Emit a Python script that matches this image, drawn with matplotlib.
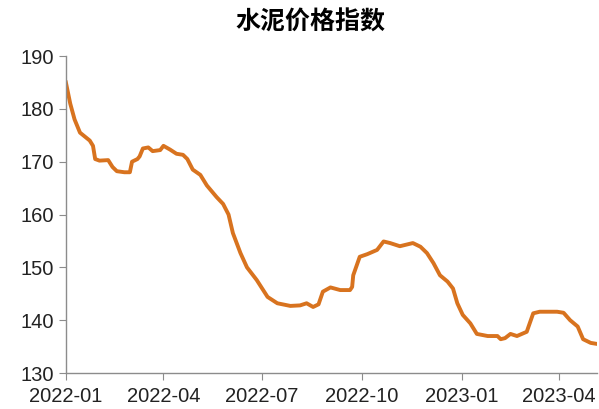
import pandas as pd
import numpy as np
import matplotlib
matplotlib.use("Agg")
import matplotlib.pyplot as plt
import matplotlib.dates as mdates

# 水泥价格指数 - values
dates = [
    "2022-01-01", "2022-01-05", "2022-01-09", "2022-01-14", "2022-01-20", "2022-01-23",
    "2022-01-26", "2022-01-28", "2022-02-01", "2022-02-09", "2022-02-13", "2022-02-17",
    "2022-02-24", "2022-03-01", "2022-03-03", "2022-03-08", "2022-03-10", "2022-03-13",
    "2022-03-18", "2022-03-22", "2022-03-29", "2022-04-01", "2022-04-07", "2022-04-13",
    "2022-04-19", "2022-04-23", "2022-04-28", "2022-05-05", "2022-05-11", "2022-05-20",
    "2022-05-26", "2022-05-31", "2022-06-04", "2022-06-11", "2022-06-17", "2022-06-26",
    "2022-07-06", "2022-07-15", "2022-07-27", "2022-08-05", "2022-08-11", "2022-08-17",
    "2022-08-22", "2022-08-26", "2022-09-02", "2022-09-11", "2022-09-20", "2022-09-22",
    "2022-09-23", "2022-09-29", "2022-10-06", "2022-10-15", "2022-10-21", "2022-10-27",
    "2022-11-05", "2022-11-17", "2022-11-24", "2022-11-30", "2022-12-06", "2022-12-12",
    "2022-12-19", "2022-12-24", "2022-12-28", "2023-01-02", "2023-01-09", "2023-01-15",
    "2023-01-25", "2023-02-03", "2023-02-06", "2023-02-10", "2023-02-15", "2023-02-21",
    "2023-03-02", "2023-03-08", "2023-03-14", "2023-03-30", "2023-04-05", "2023-04-11",
    "2023-04-18", "2023-04-23", "2023-04-30", "2023-05-06",
]
values = [
    185.0, 181.0, 178.0, 175.5, 174.5, 174.0,
    173.0, 170.5, 170.2, 170.3, 169.0, 168.2,
    168.0, 168.0, 170.0, 170.5, 171.0, 172.5,
    172.7, 172.0, 172.2, 173.0, 172.3, 171.5,
    171.3, 170.5, 168.5, 167.5, 165.5, 163.3,
    162.0, 160.0, 156.5, 152.7, 150.0, 147.6,
    144.4, 143.2, 142.7, 142.8, 143.2, 142.5,
    143.0, 145.4, 146.2, 145.7, 145.7, 146.3,
    148.5, 152.0, 152.5, 153.3, 154.9, 154.6,
    154.0, 154.6, 153.9, 152.7, 150.8, 148.5,
    147.3, 146.0, 143.2, 141.0, 139.4, 137.4,
    137.0, 137.0, 136.4, 136.6, 137.4, 137.0,
    137.8, 141.3, 141.6, 141.6, 141.4, 140.0,
    138.8, 136.4, 135.7, 135.5,
]
x = pd.to_datetime(dates)

plt.rcParams['font.family'] = ['Liberation Sans', 'DejaVu Sans']

fig = plt.figure(figsize=(5.99, 4.09), dpi=100)
ax = fig.add_axes([0.110, 0.088, 0.887, 0.775])
ax.plot(x, values, color='#D8731F', linewidth=2.8, solid_joinstyle='round')

ax.set_ylim(130, 190)
ax.set_yticks(np.arange(130, 191, 10))
ax.set_xlim(pd.Timestamp("2022-01-01"), pd.Timestamp("2023-05-06"))
ax.xaxis.set_major_locator(mdates.MonthLocator(bymonth=[1, 4, 7, 10]))
ax.xaxis.set_major_formatter(mdates.DateFormatter("%Y-%m"))

for s in ['top', 'right']:
    ax.spines[s].set_visible(False)
for s in ['left', 'bottom']:
    ax.spines[s].set_color('#8c8c8c')
    ax.spines[s].set_linewidth(1.0)
ax.tick_params(axis='both', direction='out', length=5, color='#8c8c8c',
               labelsize=14.5, labelcolor='#222222')
ax.tick_params(axis='x', pad=5)

fig.text(0.519, 0.944, "水泥价格指数", ha='center', va='center', fontsize=18,
         fontweight='bold', family=['Noto Sans CJK SC', 'DejaVu Sans'])

fig.savefig("out.png", dpi=100)
